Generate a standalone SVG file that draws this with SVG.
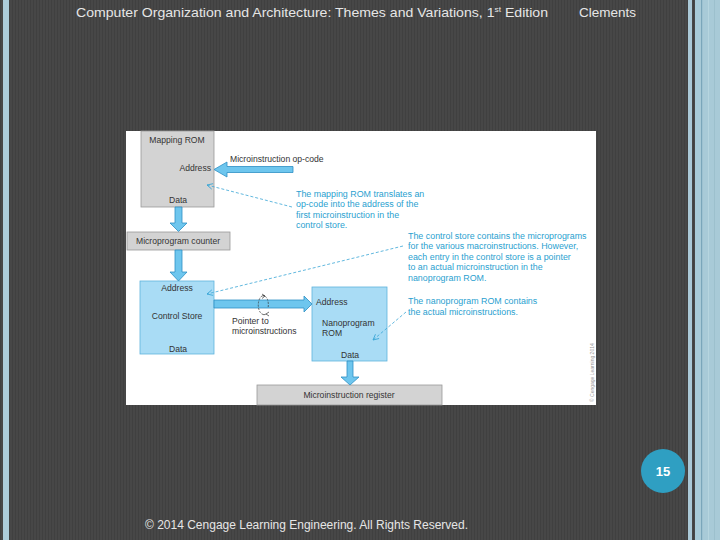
<svg xmlns="http://www.w3.org/2000/svg" width="720" height="540" viewBox="0 0 720 540">
<defs>
<pattern id="stripes" x="0" y="0" width="3" height="10" patternUnits="userSpaceOnUse">
<rect width="3" height="10" fill="#474747"/>
<rect width="1" height="10" fill="#404040"/>
</pattern>
<marker id="openArrow" viewBox="0 0 10 10" refX="9" refY="5" markerWidth="7" markerHeight="7" orient="auto-start-reverse" markerUnits="userSpaceOnUse">
<path d="M1,1 L9,5 L1,9" fill="none" stroke="#3aa6d6" stroke-width="1.2"/>
</marker>
<style>
.hdr{font-family:"Liberation Sans",Arial,sans-serif;fill:#e6e6e6}
.lbl{font-family:"Liberation Sans",Arial,sans-serif;font-size:8.6px;fill:#333}
.note{font-family:"Liberation Sans",Arial,sans-serif;font-size:8.9px;fill:#2a9fd0}
.gray{fill:#d3d3d3;stroke:#9a9a9a;stroke-width:0.8}
.blue{fill:#a9dcf5;stroke:#5fb3dd;stroke-width:0.8}
.arrow{fill:#6ec6ee;stroke:#2d8fc4;stroke-width:0.8}
.dash{fill:none;stroke:#3aa6d6;stroke-width:0.8;stroke-dasharray:3 2}
</style>
</defs>

<!-- background -->
<rect x="0" y="0" width="720" height="540" fill="url(#stripes)"/>
<rect x="3" y="0" width="6" height="540" fill="#acccd9"/>
<rect x="688" y="0" width="4" height="540" fill="#aac8d6"/>
<rect x="695" y="0" width="25" height="540" fill="#a8cad7"/>
<rect x="701" y="0" width="1.2" height="540" fill="#7aa6ba"/>
<rect x="708" y="0" width="1" height="540" fill="#b6d5df"/>
<rect x="714" y="0" width="1" height="540" fill="#9cc0cd"/>

<!-- header / footer -->
<text class="hdr" x="76" y="17" font-size="13.5" textLength="472" lengthAdjust="spacingAndGlyphs">Computer Organization and Architecture: Themes and Variations, 1<tspan font-size="8" dy="-5">st</tspan><tspan dy="5"> Edition</tspan></text>
<text class="hdr" x="579" y="17" font-size="13.5">Clements</text>
<text class="hdr" x="145" y="529" font-size="12" textLength="323" lengthAdjust="spacingAndGlyphs">© 2014 Cengage Learning Engineering. All Rights Reserved.</text>

<g id="page-number">
<circle cx="663" cy="471" r="22" fill="#2f9fc2"/>
<text x="663" y="476" text-anchor="middle" font-family="Liberation Sans,Arial,sans-serif" font-size="13" font-weight="bold" fill="#ffffff">15</text>
</g>

<!-- figure panel -->
<rect x="126" y="131" width="470" height="274" fill="#ffffff"/>
<text x="594" y="402" transform="rotate(-90 594 402)" font-family="Liberation Sans,Arial,sans-serif" font-size="5" fill="#999">© Cengage Learning 2014</text>

<g id="mapping-rom">
<rect class="gray" x="141" y="131" width="73" height="76"/>
<text class="lbl" x="177" y="143" text-anchor="middle">Mapping ROM</text>
<text class="lbl" x="211" y="171" text-anchor="end">Address</text>
<text class="lbl" x="178" y="203" text-anchor="middle">Data</text>
</g>
<text class="lbl" x="230" y="162">Microinstruction op-code</text>

<g id="microprogram-counter">
<rect class="gray" x="127" y="232" width="103" height="18"/>
<text class="lbl" x="178" y="244" text-anchor="middle">Microprogram counter</text>
</g>

<g id="control-store">
<rect class="blue" x="140" y="281" width="74" height="73"/>
<text class="lbl" x="177" y="291" text-anchor="middle">Address</text>
<text class="lbl" x="177" y="319" text-anchor="middle">Control Store</text>
<text class="lbl" x="178" y="352" text-anchor="middle">Data</text>
</g>

<text class="lbl" x="232" y="324">Pointer to</text>
<text class="lbl" x="232" y="334">microinstructions</text>

<g id="nanoprogram-rom">
<rect class="blue" x="312" y="287" width="75" height="74"/>
<text class="lbl" x="316" y="305">Address</text>
<text class="lbl" x="322" y="326">Nanoprogram</text>
<text class="lbl" x="322" y="336">ROM</text>
<text class="lbl" x="350" y="358" text-anchor="middle">Data</text>
</g>

<g id="microinstruction-register">
<rect class="gray" x="257" y="385" width="185" height="20"/>
<text class="lbl" x="349" y="398" text-anchor="middle">Microinstruction register</text>
</g>

<g id="connectors">
<!-- op-code into mapping ROM address -->
<path class="arrow" d="M293,166.5 L227,166.5 L227,162 L214,169.5 L227,177 L227,172.5 L293,172.5 Z"/>
<!-- mapping ROM data to microprogram counter -->
<path class="arrow" d="M175,207 L182,207 L182,223 L187,223 L178.5,231.5 L170,223 L175,223 Z"/>
<!-- microprogram counter to control store -->
<path class="arrow" d="M175,250 L182,250 L182,272 L187,272 L178.5,281 L170,272 L175,272 Z"/>
<!-- control store to nanoprogram ROM -->
<path class="arrow" d="M214,300 L304,300 L304,296 L312,304 L304,312 L304,308 L214,308 Z"/>
<!-- nanoprogram ROM data to microinstruction register -->
<path class="arrow" d="M347,361 L353,361 L353,377 L359,377 L350,385 L341,377 L347,377 Z"/>
<!-- curl symbol -->
<path d="M265,296 A5,9 0 0 0 262,314" fill="none" stroke="#333" stroke-width="0.7" stroke-dasharray="2 1.2"/>
<path d="M262,314 A5,9 0 0 0 266,314" fill="none" stroke="#333" stroke-width="0.7"/>
<path d="M262,296 A5,9 0 0 1 268,308" fill="none" stroke="#333" stroke-width="0.7" stroke-dasharray="2 1.2"/>
<path d="M265,296 L262,294 M265,296 L262,298.5" fill="none" stroke="#333" stroke-width="0.7"/>
<path d="M266,314 L269,312 M266,314 L269,316" fill="none" stroke="#333" stroke-width="0.7"/>
<!-- annotation pointers -->
<path class="dash" d="M292,207 L207,185" marker-end="url(#openArrow)"/>
<path class="dash" d="M403,246 L207,294" marker-end="url(#openArrow)"/>
<path class="dash" d="M406,312 L373,340" marker-end="url(#openArrow)"/>
</g>

<g id="notes">
<text class="note" x="296" y="197">The mapping ROM translates an</text>
<text class="note" x="296" y="207">op-code into the address of the</text>
<text class="note" x="296" y="218">first microinstruction in the</text>
<text class="note" x="296" y="228">control store.</text>
<text class="note" x="408" y="239">The control store contains the microprograms</text>
<text class="note" x="408" y="249">for the various macroinstructions. However,</text>
<text class="note" x="408" y="260">each entry in the control store is a pointer</text>
<text class="note" x="408" y="270">to an actual microinstruction in the</text>
<text class="note" x="408" y="281">nanoprogram ROM.</text>
<text class="note" x="408" y="304">The nanoprogram ROM contains</text>
<text class="note" x="408" y="315">the actual microinstructions.</text>
</g>
</svg>
